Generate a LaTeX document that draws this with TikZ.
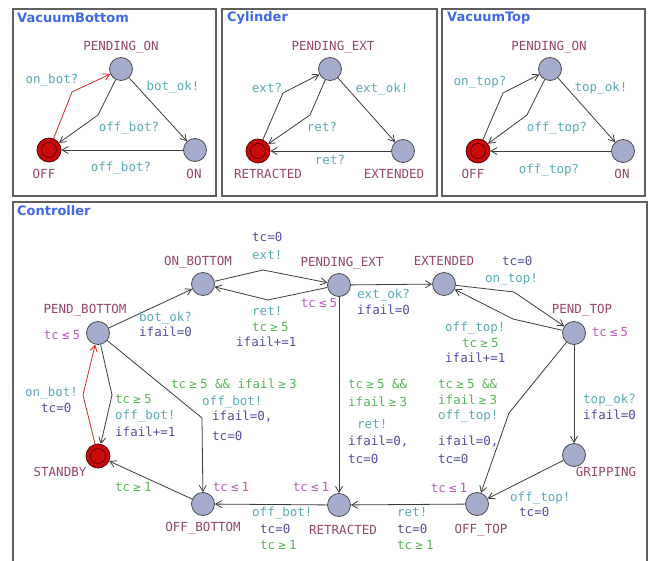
\documentclass[tikz,border=0pt]{standalone}
\usepackage{fontspec}
\setmainfont{DejaVu Sans}
\newfontfamily\monof{DejaVu Sans Mono}
\usetikzlibrary{arrows.meta}
\definecolor{locc}{RGB}{150,70,110}
\definecolor{invc}{RGB}{190,90,190}
\definecolor{syncc}{RGB}{90,170,180}
\definecolor{guardc}{RGB}{90,180,90}
\definecolor{updc}{RGB}{80,80,160}
\definecolor{titlec}{RGB}{65,105,230}
\definecolor{nodefill}{RGB}{165,172,205}
\definecolor{initfill}{RGB}{200,10,10}
\definecolor{initborder}{RGB}{90,0,0}
\definecolor{edgec}{RGB}{60,60,60}
\definecolor{rededge}{RGB}{215,40,40}
\definecolor{panelc}{RGB}{95,95,95}
\newcommand\mle{\hspace{0.25em}≤\hspace{0.25em}}
\newcommand\mge{\hspace{0.25em}≥\hspace{0.25em}}
\begin{document}
\begin{tikzpicture}[x=1pt,y=-1pt,
  lbl/.style={inner sep=0pt, font=\monof\fontsize{12.5}{13}\selectfont, text height=8.5pt, text depth=2pt},
  locn/.style={lbl, text=locc},
  inv/.style={lbl, text=invc},
  syn/.style={lbl, text=syncc},
  grd/.style={lbl, text=guardc},
  upd/.style={lbl, text=updc},
  ttl/.style={inner sep=0pt, anchor=west, font=\bfseries\fontsize{13}{14}\selectfont, text=titlec},
  loc/.style={circle, inner sep=0pt, minimum size=23pt, fill=nodefill, draw=black!70, line width=0.8pt},
  initloc/.style={circle, inner sep=0pt, minimum size=24pt, fill=initfill, draw=initborder, line width=0.8pt,
    path picture={\draw[initborder, line width=0.7pt] (path picture bounding box.center) circle (7.5pt);}},
  conn/.style={draw=edgec, line width=0.8pt, -{Straight Barb[length=6pt,width=7pt]}},
  redconn/.style={conn, draw=rededge},
  panel/.style={draw=panelc, line width=1.2pt}
]
\useasboundingbox (0,0) rectangle (655,561);
\clip (0,0) rectangle (655,561);
\fill[white] (0,0) rectangle (655,561);

% panels
\draw[panel] (13,9) rectangle (216,196);
\draw[panel] (222,9) rectangle (437,196);
\draw[panel] (442,9) rectangle (645,196);
\draw[panel] (13,202) rectangle (647,580);
\node[ttl] (t1) at (17,18) {VacuumBottom};
\node[ttl] (t2) at (227,18) {Cylinder};
\node[ttl] (t3) at (447,18) {VacuumTop};
\node[ttl] (t4) at (17,211) {Controller};

% ---------- VacuumBottom
\node[loc] (vbpon) at (121,69) {};
\node[initloc] (vboff) at (49,150) {};
\node[loc] (vbon) at (195,150) {};
\node[locn] (vbn1) at (121,47) {PENDING\_ON};
\node[locn] (vbn2) at (44,175) {OFF};
\node[locn] (vbn3) at (194,175) {ON};
\node[syn] (vbs1) at (52,80) {on\_bot?};
\node[syn] (vbs2) at (173,87) {bot\_ok!};
\node[syn] (vbs3) at (129,128) {off\_bot?};
\node[syn] (vbs4) at (121,168) {off\_bot?};
\coordinate (vba) at (72,92);
\coordinate (vbb) at (98,115);
\draw[redconn] (vboff) -- (vba) -- (vbpon);
\draw[conn] (vbpon) -- (vbb) -- (vboff);
\draw[conn] (vbpon) -- (vbon);
\draw[conn] (vbon) -- (vboff);

% ---------- Cylinder
\node[loc] (cypext) at (330,69) {};
\node[initloc] (cyret) at (258,151) {};
\node[loc] (cyext) at (403,151) {};
\node[locn] (cyn1) at (333,47) {PENDING\_EXT};
\node[locn] (cyn2) at (268,175) {RETRACTED};
\node[locn] (cyn3) at (394,175) {EXTENDED};
\node[syn] (cys1) at (267,89) {ext?};
\node[syn] (cys2) at (382,89) {ext\_ok!};
\node[syn] (cys3) at (322,128) {ret?};
\node[syn] (cys4) at (330,161) {ret?};
\coordinate (cya) at (283,93);
\coordinate (cyb) at (310,115);
\draw[conn] (cyret) -- (cya) -- (cypext);
\draw[conn] (cypext) -- (cyb) -- (cyret);
\draw[conn] (cypext) -- (cyext);
\draw[conn] (cyext) -- (cyret);

% ---------- VacuumTop
\node[loc] (vtpon) at (550,69) {};
\node[initloc] (vtoff) at (478,151) {};
\node[loc] (vton) at (623,151) {};
\node[locn] (vtn1) at (549,47) {PENDING\_ON};
\node[locn] (vtn2) at (473,175) {OFF};
\node[locn] (vtn3) at (622,175) {ON};
\node[syn] (vts1) at (480,82) {on\_top?};
\node[syn] (vts2) at (601,88) {top\_ok!};
\node[syn] (vts3) at (557,128) {off\_top?};
\node[syn] (vts4) at (549,170) {off\_top?};
\coordinate (vta) at (503,93);
\coordinate (vtb) at (527,115);
\draw[conn] (vtoff) -- (vta) -- (vtpon);
\draw[conn] (vtpon) -- (vtb) -- (vtoff);
\draw[conn] (vtpon) -- (vton);
\draw[conn] (vton) -- (vtoff);

% ---------- Controller locations
\node[loc] (pb) at (98,333) {};
\node[loc] (onb) at (203,284) {};
\node[loc] (pext) at (339,285) {};
\node[loc] (ext) at (444,284) {};
\node[loc] (ptop) at (574,333) {};
\node[loc] (grip) at (574,455) {};
\node[loc] (offt) at (477,504) {};
\node[loc] (ret) at (339,505) {};
\node[loc] (offb) at (203,504) {};
\node[initloc] (stby) at (98,456) {};

\node[locn] (cn1) at (85,310) {PEND\_BOTTOM};
\node[locn] (cn2) at (198,262) {ON\_BOTTOM};
\node[locn] (cn3) at (342,263) {PENDING\_EXT};
\node[locn] (cn4) at (444,262) {EXTENDED};
\node[locn] (cn5) at (582,310) {PEND\_TOP};
\node[locn] (cn6) at (606,473) {GRIPPING};
\node[locn] (cn7) at (481,530) {OFF\_TOP};
\node[locn] (cn8) at (343,531) {RETRACTED};
\node[locn] (cn9) at (203,528) {OFF\_BOTTOM};
\node[locn] (cn10) at (60,473) {STANDBY};

% invariants
\node[inv] (ci1) at (62,336) {tc\mle5};
\node[inv] (ci2) at (319,304) {tc\mle5};
\node[inv] (ci3) at (610,333) {tc\mle5};
\node[inv] (ci4) at (231,488) {tc\mle1};
\node[inv] (ci5) at (311,488) {tc\mle1};
\node[inv] (ci6) at (449,489) {tc\mle1};

% controller edges
\coordinate (ca) at (83,395);
\coordinate (cb) at (112,395);
\coordinate (cc) at (202,418);
\coordinate (cd) at (263,270);
\coordinate (ce) at (268,300);
\coordinate (cf) at (514,292);
\coordinate (cg) at (513,319);
\coordinate (ch) at (509,413);
\draw[redconn] (stby) -- (ca) -- (pb);
\draw[conn] (pb) -- (cb) -- (stby);
\draw[conn] (pb) -- (cc) -- (offb);
\draw[conn] (pb) -- (onb);
\draw[conn] (onb) -- (cd) -- (pext);
\draw[conn] (pext) -- (ce) -- (onb);
\draw[conn] (pext) -- (ext);
\draw[conn] (ext) -- (cf) -- (ptop);
\draw[conn] (ptop) -- (cg) -- (ext);
\draw[conn] (ptop) -- (grip);
\draw[conn] (ptop) -- (ch) -- (offt);
\draw[conn] (grip) -- (offt);
\draw[conn] (offt) -- (ret);
\draw[conn] (pext) -- (ret);
\draw[conn] (ret) -- (offb);
\draw[conn] (offb) -- (stby);

% edge labels
% pb -> onb
\node[syn, anchor=west] (e1a) at (139,318) {bot\_ok?};
\node[upd, anchor=west] (e1b) at (139,333) {ifail=0};
% onb -> pext
\node[upd, anchor=west] (e2a) at (252,238) {tc=0};
\node[syn, anchor=west] (e2b) at (252,256) {ext!};
% pext -> onb
\node[syn, anchor=west] (e3a) at (252,312) {ret!};
\node[grd, anchor=west] (e3b) at (252,328) {tc\mge5};
\node[upd, anchor=west] (e3c) at (236,343) {ifail+=1};
% pext -> ext
\node[syn, anchor=west] (e4a) at (357,295) {ext\_ok?};
\node[upd, anchor=west] (e4b) at (357,311) {ifail=0};
% ext -> ptop
\node[upd, anchor=west] (e5a) at (502,262) {tc=0};
\node[syn, anchor=west] (e5b) at (485,279) {on\_top!};
% ptop -> ext
\node[syn, anchor=west] (e6a) at (445,328) {off\_top!};
\node[grd, anchor=west] (e6b) at (462,344) {tc\mge5};
\node[upd, anchor=west] (e6c) at (445,359) {ifail+=1};
% ptop -> grip
\node[syn, anchor=west] (e7a) at (583,400) {top\_ok?};
\node[upd, anchor=west] (e7b) at (583,416) {ifail=0};
% ptop -> offt
\node[grd, anchor=west] (e8a) at (438,385) {tc\mge5 \&\&};
\node[grd, anchor=west] (e8b) at (438,401) {ifail\mge3};
\node[syn, anchor=west] (e8c) at (438,416) {off\_top!};
\node[upd, anchor=west] (e8d) at (438,442) {ifail=0,};
\node[upd, anchor=west] (e8e) at (438,460) {tc=0};
% grip -> offt
\node[syn, anchor=west] (e9a) at (510,498) {off\_top!};
\node[upd, anchor=west] (e9b) at (519,513) {tc=0};
% offt -> ret
\node[syn, anchor=west] (e10a) at (397,513) {ret!};
\node[upd, anchor=west] (e10b) at (397,530) {tc=0};
\node[grd, anchor=west] (e10c) at (397,546) {tc\mge1};
% pext -> ret
\node[grd, anchor=west] (e11a) at (348,385) {tc\mge5 \&\&};
\node[grd, anchor=west] (e11b) at (348,403) {ifail\mge3};
\node[syn, anchor=west] (e11c) at (357,425) {ret!};
\node[upd, anchor=west] (e11d) at (348,442) {ifail=0,};
\node[upd, anchor=west] (e11e) at (348,460) {tc=0};
% ret -> offb
\node[syn, anchor=west] (e12a) at (252,513) {off\_bot!};
\node[upd, anchor=west] (e12b) at (260,530) {tc=0};
\node[grd, anchor=west] (e12c) at (260,546) {tc\mge1};
% offb -> stby
\node[grd, anchor=west] (e13a) at (115,488) {tc\mge1};
% pb -> offb
\node[grd, anchor=west] (e14a) at (171,385) {tc\mge5 \&\& ifail\mge3};
\node[syn, anchor=west] (e14b) at (202,402) {off\_bot!};
\node[upd, anchor=west] (e14c) at (212,417) {ifail=0,};
\node[upd, anchor=west] (e14d) at (212,437) {tc=0};
% pb -> stby
\node[grd, anchor=west] (e15a) at (115,400) {tc\mge5};
\node[syn, anchor=west] (e15b) at (115,416) {off\_bot!};
\node[upd, anchor=west] (e15c) at (115,433) {ifail+=1};
% stby -> pb
\node[syn, anchor=west] (e16a) at (25,393) {on\_bot!};
\node[upd, anchor=west] (e16b) at (41,409) {tc=0};
\end{tikzpicture}
\end{document}
